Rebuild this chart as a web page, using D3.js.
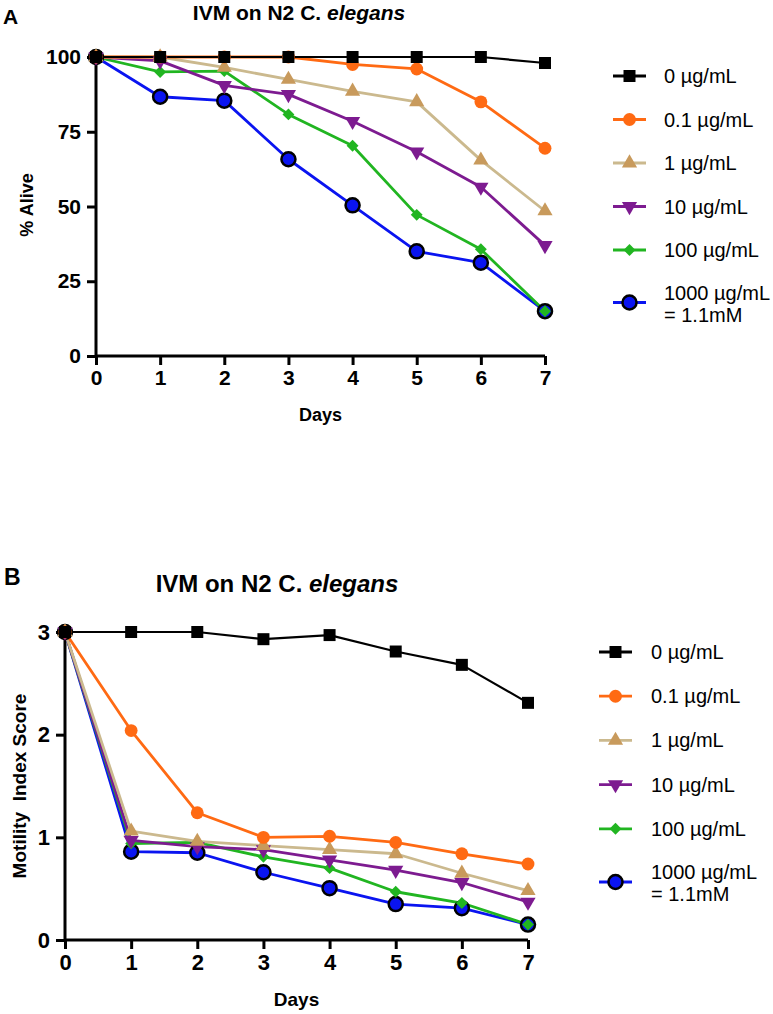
<!DOCTYPE html>
<html><head><meta charset="utf-8">
<script src="https://cdn.jsdelivr.net/npm/d3@7"></script>
<style>body{margin:0;background:#fff}svg{display:block}text{font-family:"Liberation Sans",Arial,sans-serif}</style>
</head><body><svg id="c" width="773" height="1014"></svg>
<script>
const days = [0,1,2,3,4,5,6,7];
const seriesNames = ["0 \u00b5g/mL","0.1 \u00b5g/mL","1 \u00b5g/mL","10 \u00b5g/mL","100 \u00b5g/mL","1000 \u00b5g/mL"];
const alive0    = [100,100,100,100,100,100,100,98];
const alive01   = [100,100,100,100,97.5,96,85,69.5];
const alive1    = [100,100,96.5,92.5,88.5,85,65.5,48.5];
const alive10   = [100,98.7,90.5,87.5,78.5,68.3,56.5,37];
const alive100  = [100,95,95.3,80.8,70.3,47.2,35.7,15];
const alive1000 = [100,86.7,85.4,65.8,50.4,35,31.2,15];
const mot0    = [3,3,3,2.93,2.97,2.81,2.68,2.31];
const mot01   = [3,2.04,1.24,1.0,1.01,0.95,0.84,0.74];
const mot1    = [3,1.06,0.96,0.92,0.88,0.84,0.65,0.48];
const mot10   = [3,0.97,0.91,0.88,0.78,0.68,0.56,0.37];
const mot100  = [3,0.94,0.95,0.81,0.70,0.47,0.36,0.15];
const mot1000 = [3,0.86,0.85,0.66,0.505,0.35,0.31,0.15];
const yTicksA = [0,25,50,75,100];
const yTicksB = [0,1,2,3];

const styles = [
  {line:"#000000", fill:"#000000", stroke:"none", sym:"square"},
  {line:"#ff6a13", fill:"#ff6a13", stroke:"none", sym:"circle"},
  {line:"#cbb98e", fill:"#c89a5c", stroke:"none", sym:"triUp"},
  {line:"#7d1b90", fill:"#7d1b90", stroke:"none", sym:"triDown"},
  {line:"#21b521", fill:"#21b521", stroke:"none", sym:"diamond"},
  {line:"#0a14f0", fill:"#0a14f0", stroke:"#000", sym:"bigCircle"}
];
function symPath(s){
  switch(s){
    case "square": return d3.symbol(d3.symbolSquare,144)();
    case "circle": return d3.symbol(d3.symbolCircle,130)();
    case "triUp": return d3.symbol(d3.symbolTriangle,100)();
    case "triDown": return d3.symbol(d3.symbolTriangle,100)();
    case "diamond": return d3.symbol(d3.symbolDiamond2 || d3.symbolSquare,90)();
    case "bigCircle": return d3.symbol(d3.symbolCircle,155)();
  }
}
function symTransform(s,x,y){
  if(s==="triDown") return `translate(${x},${y}) rotate(180)`;
  if(s==="diamond" && !d3.symbolDiamond2) return `translate(${x},${y}) rotate(45)`;
  return `translate(${x},${y})`;
}
const svg = d3.select("#c");

function panel(cfg){
  const x = d3.scaleLinear().domain([0,7]).range([cfg.x0,cfg.x1]);
  const y = d3.scaleLinear().domain(cfg.ydom).range([cfg.y0,cfg.y1]);
  const g = svg.append("g");
  const ax = g.append("g").attr("transform",`translate(0,${cfg.y0})`)
    .call(d3.axisBottom(x).tickValues(days).tickFormat(d3.format("d")).tickSize(9).tickPadding(5));
  const ay = g.append("g").attr("transform",`translate(${cfg.x0},0)`)
    .call(d3.axisLeft(y).tickValues(cfg.yticks).tickFormat(d3.format("d")).tickSize(9).tickPadding(6));
  [ax,ay].forEach(a=>{
    a.select(".domain").attr("stroke","#000").attr("stroke-width",3);
    a.selectAll(".tick line").attr("stroke","#000").attr("stroke-width",3);
    a.selectAll(".tick text").attr("fill","#000").attr("font-size",cfg.tickFs).attr("font-weight","bold")
      .attr("font-family","'Liberation Sans',Arial,sans-serif");
  });
  ax.select(".domain").attr("d",`M${cfg.x0},0H${cfg.x1}`);
  ay.select(".domain").attr("d",`M0,${cfg.y0}V${cfg.y1}`);
  const order = [5,4,3,2,1,0];
  const line = d3.line().x((d,i)=>x(days[i])).y(d=>y(d));
  order.forEach(k=>{
    const st = styles[k];
    g.append("path").attr("d",line(cfg.data[k])).attr("fill","none")
      .attr("stroke",st.line).attr("stroke-width",k===0?2.2:2.8).attr("stroke-linejoin","round");
  });
  order.forEach(k=>{
    const st = styles[k];
    g.selectAll(null).data(cfg.data[k]).enter().append("path")
      .attr("d",symPath(st.sym)).attr("transform",(d,i)=>symTransform(st.sym,x(days[i]),y(d)))
      .attr("fill",st.fill).attr("stroke",st.stroke).attr("stroke-width",st.stroke==="none"?0:2.5);
  });
  svg.append("text").attr("x",cfg.letterX).attr("y",cfg.letterY).attr("font-size",cfg.letterFs)
    .attr("font-weight","bold").text(cfg.letter);
  const t = svg.append("text").attr("x",cfg.titleX).attr("y",cfg.titleY).attr("text-anchor","middle")
    .attr("font-size",cfg.titleFs).attr("font-weight","bold");
  t.append("tspan").text("IVM on N2 C. ");
  t.append("tspan").attr("font-style","italic").text("elegans");
  svg.append("text").attr("x",(cfg.x0+cfg.x1)/2).attr("y",cfg.daysY).attr("text-anchor","middle")
    .attr("font-size",cfg.axFs).attr("font-weight","bold").text("Days");
  svg.append("text").attr("transform",`translate(${cfg.ylabX},${cfg.ylabY}) rotate(-90)`)
    .attr("text-anchor","middle").attr("font-size",cfg.axFs).attr("font-weight","bold")
    .attr("xml:space","preserve").style("white-space","pre").text(cfg.ylab);
  const lg = svg.append("g");
  seriesNames.forEach((n,k)=>{
    const st = styles[k];
    const yy = cfg.legY + k*cfg.legStep + (k===5?cfg.legLastExtra:0);
    lg.append("line").attr("x1",cfg.legX).attr("x2",cfg.legX+33).attr("y1",yy).attr("y2",yy)
      .attr("stroke",st.line).attr("stroke-width",2.8);
    lg.append("path").attr("d",symPath(st.sym)).attr("transform",symTransform(st.sym,cfg.legX+16.5,yy))
      .attr("fill",st.fill).attr("stroke",st.stroke).attr("stroke-width",st.stroke==="none"?0:2.5);
    if(k===5){
      lg.append("text").attr("x",cfg.legTextX).attr("y",yy-3).attr("font-size",cfg.legFs).text(n);
      lg.append("text").attr("x",cfg.legTextX).attr("y",yy+19).attr("font-size",cfg.legFs).text("= 1.1mM");
    } else {
      lg.append("text").attr("x",cfg.legTextX).attr("y",yy+7).attr("font-size",cfg.legFs).text(n);
    }
  });
}

panel({x0:96,x1:545,y0:356,y1:57,ydom:[0,100],yticks:yTicksA,tickFs:21,
  data:[alive0,alive01,alive1,alive10,alive100,alive1000],
  letter:"A",letterX:3,letterY:24,letterFs:21,titleX:299,titleY:20,titleFs:21,
  daysY:421,axFs:18,ylab:"% Alive",ylabX:33,ylabY:205,
  legX:613,legTextX:664,legY:76,legStep:43.5,legLastExtra:9,legFs:20});
panel({x0:65,x1:528,y0:940,y1:632,ydom:[0,3],yticks:yTicksB,tickFs:22,
  data:[mot0,mot01,mot1,mot10,mot100,mot1000],
  letter:"B",letterX:4,letterY:585,letterFs:23,titleX:277,titleY:592,titleFs:24,
  daysY:1006,axFs:19,ylab:"Motility  Index Score",ylabX:26,ylabY:786,
  legX:599,legTextX:651,legY:652,legStep:44.2,legLastExtra:9,legFs:20});
</script></body></html>
